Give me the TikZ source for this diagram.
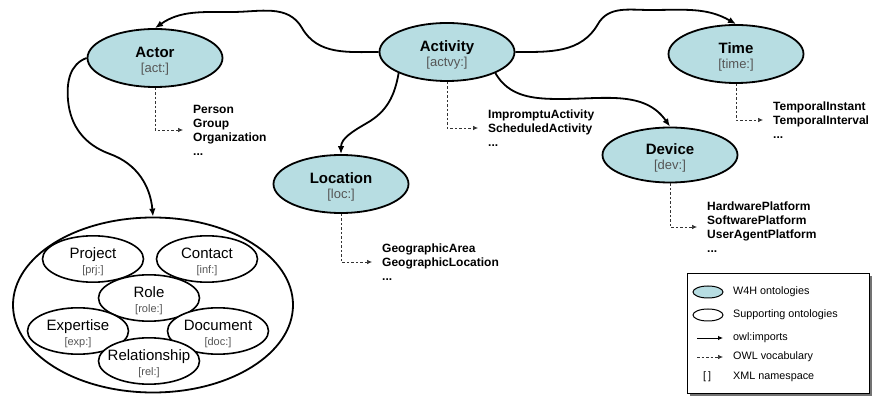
\documentclass[tikz,border=0pt]{standalone}
\usepackage{fontspec}
\setmainfont{Liberation Sans}
\usepackage{xcolor}
\usepackage{tikz}
\usetikzlibrary{shapes.geometric, arrows.meta, positioning, shadows}

\definecolor{wfill}{RGB}{183,221,226}
\definecolor{labgray}{RGB}{85,85,85}

\newcommand{\ontomain}[2]{{\fontsize{15}{15}\bfseries\selectfont\rule{0pt}{16.5pt}#1}\\{\fontsize{13}{15}\selectfont\color{labgray}[#2]}}
\newcommand{\ontosub}[2]{{\fontsize{15}{14.5}\selectfont\rule{0pt}{16pt}#1}\\{\fontsize{11}{14.5}\selectfont\color{labgray}[#2]}}

\begin{document}
\begin{tikzpicture}[x=1pt, y=1pt,
  w4h/.style={draw, ellipse, line width=1.8pt, fill=wfill, align=center, inner sep=0pt,
    minimum width=135pt, minimum height=58pt, font=\fontsize{13}{15}\selectfont},
  supp/.style={draw, ellipse, line width=1.6pt, fill=white, align=center, inner ysep=0pt, inner xsep=-12pt,
    minimum width=101pt, minimum height=39pt, font=\fontsize{11}{14.5}\selectfont},
  imports/.style={-{Latex[length=8pt,width=6.5pt]}, line width=1.8pt},
  vocab/.style={-{Latex[length=5pt,width=4.5pt]}, line width=0.7pt, black!80, dash pattern=on 2.5pt off 2pt},
  vlist/.style={anchor=west, align=left, inner xsep=10pt, inner ysep=0pt, font=\fontsize{12}{14}\bfseries\selectfont},
  legtext/.style={anchor=west, inner sep=0pt, font=\fontsize{10.8}{13}\selectfont}]
\useasboundingbox (0,0) rectangle (872,396);

% Ontologias W4H
\node[w4h] (act) at (155,338) {\ontomain{Actor}{act:}};
\node[w4h] (acty) at (447,344) {\ontomain{Activity}{actvy:}};
\node[w4h] (time) at (736,342) {\ontomain{Time}{time:}};
\node[w4h, minimum height=55pt] (dev) at (670,241) {\ontomain{Device}{dev:}};
\node[w4h] (loc) at (341,212) {\ontomain{Location}{loc:}};

% Ontologias de soporte
\node[draw, ellipse, line width=1.8pt, minimum width=280pt, minimum height=175pt] (sup) at (153,91) {};
\node[supp] (prj) at (93,137) {\ontosub{Project}{prj:}};
\node[supp] (inf) at (207,137) {\ontosub{Contact}{inf:}};
\node[supp] (role) at (149,98) {\ontosub{Role}{role:}};
\node[supp, minimum height=42pt] (exp) at (78,65) {\ontosub{Expertise}{exp:}};
\node[supp, minimum height=42pt] (doc) at (218,65) {\ontosub{Document}{doc:}};
\node[supp, minimum height=42pt] (rel) at (149,35) {\ontosub{Relationship}{rel:}};

% Vocabularios
\node[vlist] (actlist) at (183,266) {Person\\Group\\Organization\\...};
\node[vlist] (actylist) at (478,268) {ImpromptuActivity\\ScheduledActivity\\...};
\node[vlist] (timelist) at (763,276) {TemporalInstant\\TemporalInterval\\...};
\node[vlist] (devlist) at (697,169) {HardwarePlatform\\SoftwarePlatform\\UserAgentPlatform\\...};
\node[vlist] (loclist) at (372,134) {GeographicArea\\GeographicLocation\\...};

% Flechas owl:imports
\draw[imports] (acty.west) to[out=180,in=-60] (302,368) to[out=120,in=0] (232,384) to[out=180,in=35] (act.north);
\draw[imports] (acty.east) to[out=0,in=-120] (598,372) to[out=60,in=180] (650,386) to[out=0,in=150] (time.north);
\draw[imports] (acty.south west) to[out=-100,in=30] (367,273) to[out=210,in=90] (loc.north);
\draw[imports] (acty.south east) to[out=-60,in=180] (560,297) to[out=0,in=125] (dev.north);
\draw[imports] (act.west) to[out=200,in=95] (68,296) to[out=-85,in=160] (110,242) to[out=-20,in=95] (sup.north);

% Flechas de vocabulario
\draw[vocab] (act.south) |- (actlist.west);
\draw[vocab] (acty.south) |- (actylist.west);
\draw[vocab] (time.south) |- (timelist.west);
\draw[vocab] (dev.south) |- (devlist.west);
\draw[vocab] (loc.south) |- (loclist.west);

% Leyenda
\node[draw, line width=0.8pt, fill=white, minimum width=182pt, minimum height=120pt,
  drop shadow={shadow xshift=3pt, shadow yshift=-3pt, fill=black!55, opacity=1}] (legend) at (778,63) {};
\node[draw, ellipse, line width=1pt, fill=wfill, minimum width=30pt, minimum height=12pt] (lw4h) at (708,104) {};
\node[draw, ellipse, line width=1pt, fill=white, minimum width=30pt, minimum height=12pt] (lsup) at (708,81) {};
\coordinate (limp) at (697,58);
\coordinate (lvoc) at (697,39);
\node[legtext] (lns) at (703,19) {[\,]};
\node[legtext] (tw4h) at (733,104) {W4H ontologies};
\node[legtext] (tsup) at (733,81) {Supporting ontologies};
\node[legtext] (timp) at (733,58) {owl:imports};
\node[legtext] (tvoc) at (733,39) {OWL vocabulary};
\node[legtext] (tns) at (733,19) {XML namespace};
\draw[-{Latex[length=5pt,width=4.5pt]}, line width=0.9pt] (limp) -- ([xshift=-10pt]timp.west);
\draw[vocab] (lvoc) -- ([xshift=-10pt]tvoc.west);
\end{tikzpicture}
\end{document}
